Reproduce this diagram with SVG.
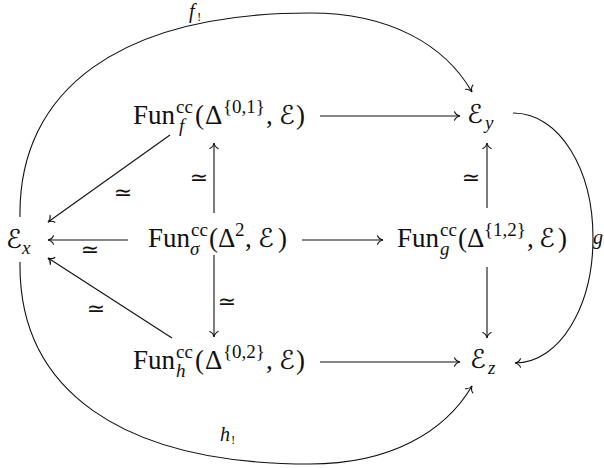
<svg xmlns="http://www.w3.org/2000/svg" width="604" height="468" viewBox="0 0 604 468">
<defs>
<style>
.m{font-family:"Liberation Serif","DejaVu Serif",serif;font-size:27px;fill:#111}
.s{font-size:19px}
.i{font-style:italic}
.e{font-family:"DejaVu Serif","DejaVu Sans",serif;font-size:26px}
.lbl{font-family:"Liberation Serif","DejaVu Serif",serif;font-size:20px;fill:#111}
.eq{font-family:"DejaVu Sans",sans-serif;font-size:22px;fill:#111;text-anchor:middle}
.c{fill:none;stroke:#111;stroke-width:1.1}
</style>
<marker id="ah" markerUnits="userSpaceOnUse" markerWidth="14" markerHeight="14" refX="0" refY="0" viewBox="-7 -7 14 14" orient="auto" overflow="visible">
<path d="M -5.5,-4.2 C -4.5,-1.6 -1.8,-0.4 0,0 C -1.8,0.4 -4.5,1.6 -5.5,4.2" fill="none" stroke="#111" stroke-width="1.1" stroke-linecap="round"/>
</marker>
</defs>
<rect width="604" height="468" fill="#fff"/>

<g id="fun-f">
<text class="m"><tspan x="133" y="124">Fun</tspan><tspan class="s" x="176" y="113">cc</tspan><tspan class="s i" x="179" y="132">f</tspan><tspan x="195" y="124">(</tspan><tspan x="205" y="124">Δ</tspan><tspan class="s" x="223" y="113">{0,1}</tspan><tspan x="266" y="124">,</tspan><tspan class="e" x="279" y="124">ℰ</tspan><tspan x="296" y="124">)</tspan></text>
</g>

<g id="fun-sigma">
<text class="m"><tspan x="148" y="247">Fun</tspan><tspan class="s" x="191" y="236">cc</tspan><tspan class="s i" x="190" y="255">σ</tspan><tspan x="209" y="247">(</tspan><tspan x="218" y="247">Δ</tspan><tspan class="s" x="235" y="236">2</tspan><tspan x="245" y="247">,</tspan><tspan class="e" x="258" y="247">ℰ</tspan><tspan x="278" y="247">)</tspan></text>
</g>

<g id="fun-g">
<text class="m"><tspan x="397" y="247">Fun</tspan><tspan class="s" x="440" y="236">cc</tspan><tspan class="s i" x="440" y="255">g</tspan><tspan x="458" y="247">(</tspan><tspan x="467" y="247">Δ</tspan><tspan class="s" x="484" y="236">{1,2}</tspan><tspan x="527" y="247">,</tspan><tspan class="e" x="539" y="247">ℰ</tspan><tspan x="558" y="247">)</tspan></text>
</g>

<g id="fun-h">
<text class="m"><tspan x="133" y="369">Fun</tspan><tspan class="s" x="176" y="358">cc</tspan><tspan class="s i" x="176" y="377">h</tspan><tspan x="195" y="369">(</tspan><tspan x="205" y="369">Δ</tspan><tspan class="s" x="223" y="358">{0,2}</tspan><tspan x="266" y="369">,</tspan><tspan class="e" x="279" y="369">ℰ</tspan><tspan x="296" y="369">)</tspan></text>
</g>

<g id="e-x">
<text class="m"><tspan class="e" x="6" y="248">ℰ</tspan><tspan class="s i" x="22" y="254">x</tspan></text>
</g>

<g id="e-y">
<text class="m"><tspan class="e" x="467" y="123">ℰ</tspan><tspan class="s i" x="485" y="129">y</tspan></text>
</g>

<g id="e-z">
<text class="m"><tspan class="e" x="470" y="368">ℰ</tspan><tspan class="s i" x="488" y="374">z</tspan></text>
</g>

<g id="connectors">
<path class="c" d="M 320,116 H 460" marker-end="url(#ah)"/>
<path class="c" d="M 320,362 H 460" marker-end="url(#ah)"/>
<path class="c" d="M 128,240 H 48" marker-end="url(#ah)"/>
<path class="c" d="M 302,240 H 383" marker-end="url(#ah)"/>
<path class="c" d="M 214,213 V 143" marker-end="url(#ah)"/>
<path class="c" d="M 214,255 V 337" marker-end="url(#ah)"/>
<path class="c" d="M 487,208 V 143" marker-end="url(#ah)"/>
<path class="c" d="M 487,267 V 338" marker-end="url(#ah)"/>
<path class="c" d="M 170,135 L 48,222" marker-end="url(#ah)"/>
<path class="c" d="M 172,338 L 48,258" marker-end="url(#ah)"/>
<path class="c" d="M 20,217 C 18,90 120,13 310,13 C 390,13 445,45 472,92" marker-end="url(#ah)"/>
<path class="c" d="M 20,262 C 18,389 120,464 310,464 C 390,464 445,432 472,386" marker-end="url(#ah)"/>
<path class="c" d="M 513,113 C 560,113 593,170 593,238 C 593,306 560,363 515,363" marker-end="url(#ah)"/>
</g>

<g id="labels">
<text class="eq" x="123" y="200">≃</text>
<text class="eq" x="96" y="316">≃</text>
<text class="eq" x="90" y="257">≃</text>
<text class="eq" x="199" y="185">≃</text>
<text class="eq" x="227" y="309">≃</text>
<text class="eq" x="471" y="185">≃</text>
<text class="lbl"><tspan class="i" x="189" y="18">f</tspan><tspan x="197" y="21" font-size="13">!</tspan></text>
<text class="lbl"><tspan class="i" x="220" y="441">h</tspan><tspan x="231" y="444" font-size="13">!</tspan></text>
<text class="lbl"><tspan class="i" x="593" y="244">g</tspan></text>
</g>
</svg>
